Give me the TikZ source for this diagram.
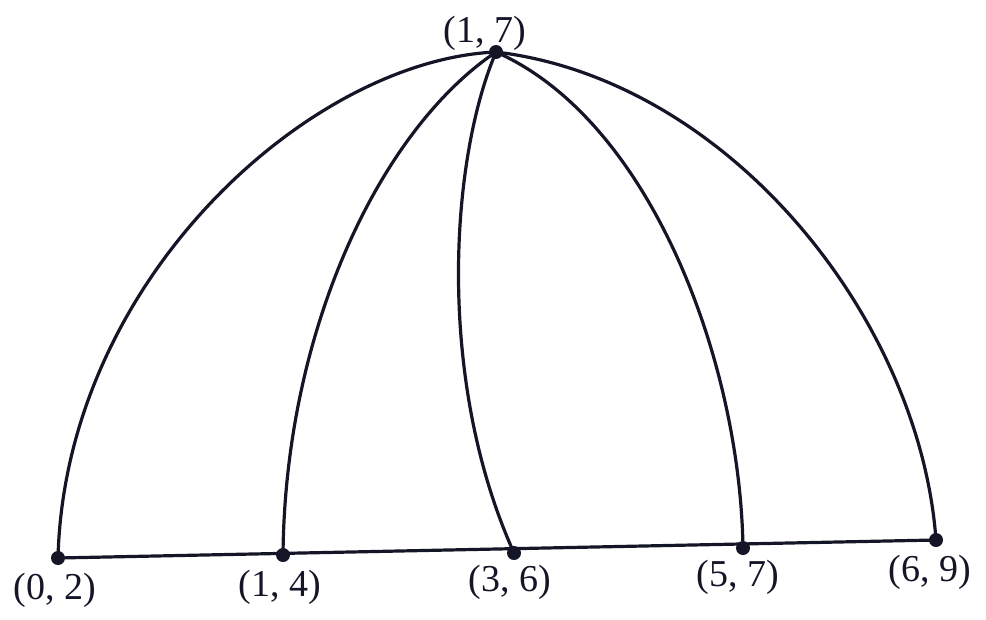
\documentclass[tikz,border=0pt]{standalone}
\usepackage{fontspec}
\setmainfont{Liberation Serif}
\definecolor{ink}{RGB}{20,22,40}
\begin{document}
\begin{tikzpicture}[x=1pt,y=-1pt,
  vtx/.style={circle,fill=ink,inner sep=0pt,minimum size=14pt},
  lbl/.style={text=ink,font=\fontsize{38}{40}\selectfont,inner sep=0pt},
  edge/.style={draw=ink,line width=3.2pt}]
\useasboundingbox (0,0) rectangle (986,619);
\node[vtx] (t) at (496,52) {};
\node[vtx] (a) at (58,558) {};
\node[vtx] (b) at (283,555) {};
\node[vtx] (c) at (514,553) {};
\node[vtx] (d) at (743,548) {};
\node[vtx] (e) at (936,540) {};
\node[lbl] (lt) at (485,33) {(1, 7)};
\node[lbl] (la) at (55,590) {(0, 2)};
\node[lbl] (lb) at (280,587) {(1, 4)};
\node[lbl] (lc) at (510,582) {(3, 6)};
\node[lbl] (ld) at (738,577) {(5, 7)};
\node[lbl] (le) at (930,572) {(6, 9)};
\draw[edge] (a.center) -- (e.center);
\draw[edge] (a.center) .. controls (65,280) and (310,60) .. (t.center);
\draw[edge] (b.center) .. controls (285,330) and (380,130) .. (t.center);
\draw[edge] (c.center) .. controls (436,380) and (450,160) .. (t.center);
\draw[edge] (d.center) .. controls (740,360) and (650,120) .. (t.center);
\draw[edge] (e.center) .. controls (920,320) and (730,80) .. (t.center);
\end{tikzpicture}
\end{document}
